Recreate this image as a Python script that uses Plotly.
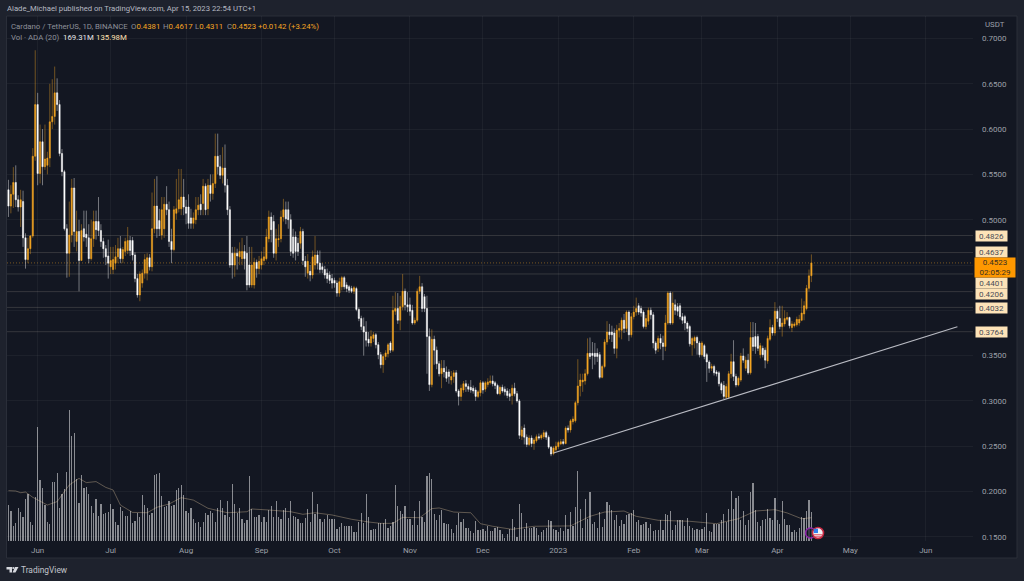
import pandas as pd
import plotly.graph_objects as go

opens = [
.533,.515,.528,.541,.522,.514,.520,.480,.456,.468,
.482,.570,.627,.551,.586,.5585,.560,.568,.608,.614,
.640,.627,.573,.553,.490,.463,.483,.535,.476,.487,
.455,.490,.484,.480,.457,.479,.498,.498,.488,.476,
.468,.460,.448,.445,.452,.459,.468,.457,.465,.466,
.477,.477,.461,.435,.417,.430,.441,.441,.458,.448,
.490,.515,.499,.483,.490,.517,.511,.476,.467,.507,
.512,.512,.525,.514,.514,.502,.496,.500,.511,.517,
.518,.537,.512,.538,.529,.540,.570,.5585,.549,.557,
.538,.511,.463,.450,.463,.459,.457,.465,.463,.450,
.428,.428,.453,.446,.450,.455,.457,.479,.503,.498,
.463,.478,.479,.503,.511,.511,.500,.481,.481,.474,
.474,.487,.454,.441,.443,.439,.450,.461,.452,.448,
.445,.441,.439,.435,.433,.430,
.419,.426,.436,.428,.426,.424,.421,.424,.401,.391,
.382,.376,.368,.364,.369,.373,.362,.351,.340,.349,
.352,.364,.356,.399,.402,.389,.404,.421,.406,.406,
.400,.386,.389,.421,.426,.415,.402,.371,.318,.368,
.356,.341,.330,.336,.332,.332,.323,.327,.331,.311,
.305,.312,.319,.316,.315,.314,.312,.305,.309,.320,
.313,.318,.320,.322,.320,.317,.308,.315,.313,.311,
.308,.306,.314,.308,.300,.261,.270,.260,.252,.259,
.253,.256,.2605,.259,.2605,.265,.260,.249,.242,.246,
.2495,.2525,.255,.253,.270,.268,.277,.278,.298,.3165,
.321,.322,.330,.3525,.3525,.3525,.3525,.351,.326,.338,
.365,.376,.376,.375,.358,.378,.378,.389,.380,.398,
.373,.393,.398,.405,.402,.398,.382,.388,.400,.395,
.364,.358,.369,.364,.360,.386,.419,.386,.406,.404,
.405,.393,.393,.386,.382,.362,.366,.370,.364,.351,
.361,.351,.343,.336,.338,.332,.331,.319,.317,.304,
.304,.330,.3433,.327,.3176,.323,.3496,.336,.345,.331,
.370,.371,.371,.351,.358,.356,.344,.368,.381,.375,
.399,.391,.382,.385,.390,.392,.381,.383,.384,.386,
.389,.396,.402,.4243,.4381]

closes = [
.515,.528,.541,.522,.514,.522,.480,.456,.468,.482,
.570,.627,.551,.586,.5585,.567,.568,.608,.614,.640,
.627,.573,.553,.490,.463,.483,.535,.487,.487,.455,
.488,.481,.480,.457,.479,.498,.489,.488,.476,.468,
.459,.452,.455,.456,.459,.468,.457,.467,.476,.477,
.466,.461,.435,.417,.440,.441,.456,.458,.448,.490,
.515,.490,.490,.511,.517,.511,.476,.467,.511,.512,
.522,.525,.514,.507,.496,.496,.502,.511,.516,.511,
.537,.511,.538,.529,.540,.570,.5585,.549,.557,.538,
.511,.450,.450,.463,.460,.465,.465,.457,.428,.428,
.450,.453,.446,.454,.457,.459,.481,.503,.489,.463,
.479,.479,.503,.511,.501,.500,.465,.463,.465,.465,
.487,.455,.448,.454,.439,.459,.461,.452,.445,.445,
.439,.435,.433,.430,.430,.419,
.4316,.436,.426,.424,.422,.421,.425,.401,.391,.382,
.376,.367,.364,.371,.373,.362,.351,.340,.349,.353,
.362,.356,.400,.402,.389,.404,.421,.406,.404,.399,
.386,.389,.421,.426,.402,.402,.371,.318,.368,.356,
.341,.330,.336,.332,.325,.327,.327,.331,.311,.305,
.314,.319,.316,.313,.312,.311,.305,.310,.320,.312,
.320,.321,.322,.319,.317,.308,.315,.311,.310,.306,
.305,.314,.308,.300,.262,.268,.260,.252,.259,.253,
.257,.2605,.259,.262,.265,.260,.249,.2414,.248,.250,
.254,.255,.253,.270,.268,.278,.280,.298,.3165,.323,
.323,.330,.3525,.349,.350,.349,.349,.326,.338,.365,
.376,.373,.373,.358,.378,.380,.389,.380,.398,.373,
.393,.398,.402,.398,.397,.382,.391,.400,.395,.364,
.356,.369,.364,.360,.386,.419,.386,.408,.400,.399,
.393,.389,.386,.380,.363,.369,.370,.364,.351,.364,
.349,.343,.336,.338,.331,.330,.319,.312,.305,.316,
.330,.3433,.327,.3176,.325,.3496,.345,.345,.331,.370,
.360,.360,.358,.361,.351,.345,.369,.381,.375,.399,
.391,.382,.386,.391,.392,.383,.385,.385,.390,.390,
.397,.405,.4243,.438,.4523]

highs = [
.544,.538,.558,.560,.527,.533,.532,.485,.480,.483,
.579,.687,.640,.605,.600,.605,.575,.650,.655,.669,
.656,.632,.578,.555,.495,.520,.545,.546,.510,.500,
.495,.510,.510,.495,.500,.510,.510,.525,.495,.480,
.472,.478,.470,.470,.472,.480,.482,.470,.480,.492,
.482,.481,.464,.440,.443,.445,.462,.463,.462,.530,
.545,.548,.512,.525,.525,.537,.520,.490,.515,.545,
.556,.556,.545,.522,.528,.512,.508,.525,.525,.528,
.545,.540,.545,.550,.550,.595,.595,.5715,.580,.583,
.545,.515,.470,.470,.468,.475,.480,.472,.482,.470,
.470,.458,.456,.460,.465,.470,.490,.510,.508,.505,
.490,.495,.510,.523,.520,.520,.506,.490,.487,.480,
.492,.490,.460,.462,.450,.466,.482,.466,.466,.452,
.449,.446,.443,.440,.436,.433,
.436,.438,.438,.431,.428,.427,.427,.426,.403,.394,
.392,.388,.376,.378,.376,.375,.365,.354,.352,.356,
.364,.366,.416,.420,.419,.416,.440,.424,.420,.414,
.406,.392,.424,.438,.430,.418,.416,.380,.379,.372,
.360,.344,.345,.345,.338,.335,.333,.334,.334,.313,
.318,.322,.323,.319,.323,.317,.315,.312,.323,.322,
.322,.325,.328,.328,.322,.319,.317,.318,.316,.314,
.313,.318,.320,.311,.302,.272,.274,.263,.262,.262,
.259,.263,.264,.264,.268,.267,.262,.250,.250,.255,
.256,.258,.258,.272,.273,.280,.283,.300,.346,.330,
.330,.335,.369,.370,.365,.364,.358,.354,.340,.368,
.388,.385,.383,.380,.384,.386,.392,.396,.400,.400,
.397,.405,.414,.408,.405,.400,.395,.403,.403,.398,
.366,.372,.374,.372,.395,.421,.421,.420,.412,.408,
.408,.397,.395,.388,.384,.371,.372,.372,.366,.366,
.363,.353,.345,.341,.340,.334,.333,.321,.322,.319,
.333,.352,.367,.330,.327,.353,.358,.349,.352,.387,
.387,.386,.374,.364,.361,.359,.372,.390,.384,.409,
.402,.405,.405,.400,.398,.393,.388,.387,.393,.395,
.413,.410,.428,.445,.4617]

lows = [
.503,.507,.513,.514,.509,.492,.470,.446,.452,.462,
.480,.565,.538,.540,.538,.555,.550,.558,.600,.605,
.620,.570,.548,.488,.436,.437,.475,.470,.465,.421,
.455,.476,.470,.452,.455,.470,.478,.482,.470,.458,
.450,.435,.440,.440,.445,.452,.452,.452,.460,.462,
.460,.455,.431,.414,.410,.425,.435,.433,.444,.443,
.485,.480,.482,.478,.480,.505,.470,.452,.465,.500,
.508,.505,.505,.495,.490,.490,.490,.495,.505,.505,
.505,.505,.505,.520,.522,.535,.550,.545,.540,.530,
.505,.447,.435,.437,.445,.450,.450,.445,.422,.425,
.425,.424,.436,.440,.445,.450,.455,.475,.475,.458,
.455,.470,.475,.498,.495,.490,.460,.458,.455,.460,
.468,.450,.437,.435,.432,.435,.445,.445,.441,.441,
.435,.430,.429,.424,.425,.415,
.415,.422,.423,.420,.419,.419,.418,.399,.388,.378,
.350,.360,.360,.360,.365,.358,.346,.336,.331,.345,
.348,.353,.354,.395,.385,.378,.400,.400,.398,.394,
.384,.384,.387,.418,.398,.398,.330,.311,.315,.340,
.335,.327,.314,.326,.321,.319,.318,.320,.309,.295,
.300,.309,.310,.310,.309,.308,.300,.303,.305,.308,
.310,.315,.318,.316,.313,.307,.306,.309,.306,.303,
.300,.296,.305,.298,.258,.257,.252,.249,.250,.249,
.246,.254,.257,.257,.258,.257,.247,.239,.240,.244,
.247,.251,.251,.252,.265,.265,.274,.276,.295,.305,
.310,.318,.328,.346,.335,.340,.343,.324,.325,.336,
.362,.368,.365,.352,.347,.370,.368,.375,.376,.366,
.370,.390,.394,.395,.393,.380,.379,.384,.390,.358,
.352,.354,.357,.345,.355,.384,.384,.384,.395,.394,
.390,.385,.378,.376,.360,.350,.358,.351,.348,.349,
.346,.321,.331,.333,.328,.327,.316,.308,.302,.302,
.302,.325,.322,.315,.316,.321,.342,.333,.329,.329,
.355,.352,.355,.347,.348,.336,.341,.366,.372,.372,
.387,.379,.371,.382,.388,.380,.376,.381,.382,.383,
.388,.389,.400,.421,.4311]

volumes = [
210,175,88,107,191,171,138,245,273,109,93,259,668,356,308,210,109,99,343,343,
395,195,273,302,401,765,613,629,360,224,385,308,313,273,204,165,243,146,214,158,
165,167,214,185,113,93,200,175,146,146,175,103,117,165,142,269,210,191,152,165,
385,389,395,263,200,204,236,204,210,298,311,327,269,175,162,191,127,103,113,84,
113,165,152,175,162,111,191,239,191,152,236,142,333,214,162,195,127,107,123,380,
185,138,142,152,113,138,109,181,204,142,236,142,127,181,195,136,236,148,138,127,
107,103,132,185,113,284,158,214,127,113,127,152,127,127,127,68,84,103,88,88,
88,88,54,54,113,162,107,273,138,64,68,72,103,103,103,127,74,88,113,325,
204,175,158,204,127,127,93,175,93,236,
140,111,380,399,364,160,121,150,179,105,101,101,72,47,92,164,111,130,78,78,
58,47,115,66,62,72,58,86,58,58,78,82,66,43,19,39,72,127,82,23,
218,164,72,107,78,78,82,78,33,53,66,78,121,117,72,62,53,78,58,150,
72,169,86,199,407,189,78,247,130,286,101,111,78,169,82,130,228,208,179,121,
150,86,121,101,150,156,164,179,111,121,92,97,111,78,101,58,62,62,121,66,
160,150,175,62,92,121,121,121,86,136,86,78,62,72,66,72,82,164,58,53,
101,101,97,121,156,111,189,292,189,253,261,121,175,92,125,286,341,183,111,86,
121,130,189,136,121,253,121,101,234,130,92,95,53,62,53,78,140,136,173,238,169.31]

ma_dates = ["2022-05-20","2022-05-23","2022-05-25","2022-05-27","2022-05-30","2022-06-02","2022-06-05","2022-06-09",
"2022-06-11","2022-06-14","2022-06-18","2022-06-21","2022-06-25","2022-06-29","2022-07-02","2022-07-05","2022-07-10",
"2022-07-16","2022-07-20","2022-07-25","2022-07-30","2022-08-04","2022-08-10","2022-08-18","2022-08-26","2022-08-28",
"2022-09-04","2022-09-13","2022-09-18","2022-09-23","2022-09-30","2022-10-08","2022-10-15","2022-10-20","2022-10-25",
"2022-10-29","2022-11-05","2022-11-10","2022-11-13","2022-11-19","2022-11-26","2022-11-30","2022-12-05","2022-12-13",
"2022-12-22","2023-01-06","2023-01-14","2023-01-20","2023-01-28","2023-02-02","2023-02-11","2023-02-24","2023-03-07",
"2023-03-16","2023-03-23","2023-03-31","2023-04-05","2023-04-11","2023-04-15"]
ma_values = [294,292,282,286,255,230,210,230,269,327,366,341,347,313,298,210,167,165,197,216,253,239,191,165,171,187,
181,171,156,165,152,127,111,103,103,138,136,189,193,169,165,101,86,68,86,88,144,169,175,144,121,115,101,130,175,183,164,130,135.98]

levels = [0.4826, 0.4637, 0.4401, 0.4206, 0.4032, 0.3764]
level_label_y = [236, 252, 282.5, 293.5, 307.5, 332]
last_price = 0.4523
trend_dates = ["2022-12-30", "2023-06-14"]
trend_values = [0.2425, 0.3819]
month_ticks = ["2022-06-01","2022-07-01","2022-08-01","2022-09-01","2022-10-01","2022-11-01","2022-12-01",
               "2023-01-01","2023-02-01","2023-03-01","2023-04-01","2023-05-01","2023-06-01"]
month_labels = ["Jun","Jul","Aug","Sep","Oct","Nov","Dec","2023","Feb","Mar","Apr","May","Jun"]
price_ticks = [0.15,0.20,0.25,0.30,0.35,0.40,0.45,0.50,0.55,0.60,0.65,0.70]
price_tick_labels = ["0.1500","0.2000","0.2500","0.3000","0.3500","","","0.5000","0.5500","0.6000","0.6500","0.7000"]

if not (len(opens)==len(closes)==len(highs)==len(lows)==len(volumes)):
    raise SystemExit(f"lengths {len(opens)} {len(closes)} {len(highs)} {len(lows)} {len(volumes)}")

dates = pd.date_range(end="2023-04-15", periods=len(closes), freq="D")

ORANGE = "#f5a623"
PANE = "#131722"
OUTER = "#1e222d"
TXT = "#9da0a9"
FONT = "Roboto"

def X(px): return (px - 7) / 966
def Y(py): return (541 - py) / 525

fig = go.Figure()
fig.add_bar(x=dates, y=volumes, yaxis="y", width=0.5*86400000,
            marker=dict(color="rgba(255,255,255,0.5)", line=dict(width=0)), showlegend=False)
fig.add_scatter(x=pd.to_datetime(ma_dates), y=ma_values, yaxis="y", mode="lines",
                line=dict(color="rgba(255,224,178,0.32)", width=1), showlegend=False)
fig.add_candlestick(x=dates, open=opens, high=highs, low=lows, close=closes, yaxis="y2", whiskerwidth=0,
                    increasing=dict(line=dict(color="rgba(245,166,35,0.42)", width=1), fillcolor="rgba(0,0,0,0)"),
                    decreasing=dict(line=dict(color="rgba(255,255,255,0.42)", width=1), fillcolor="rgba(0,0,0,0)"),
                    showlegend=False)
fig.add_candlestick(x=dates, open=opens, close=closes,
                    high=[max(o, c) for o, c in zip(opens, closes)],
                    low=[min(o, c) for o, c in zip(opens, closes)],
                    yaxis="y2", whiskerwidth=0,
                    increasing=dict(line=dict(color=ORANGE, width=0.2), fillcolor=ORANGE),
                    decreasing=dict(line=dict(color="#ffffff", width=0.2), fillcolor="#ffffff"),
                    showlegend=False)
fig.add_scatter(x=pd.to_datetime(trend_dates), y=trend_values, yaxis="y2", mode="lines",
                line=dict(color="#b9bbc3", width=1.1), showlegend=False)

shapes = [dict(type="rect", xref="paper", yref="paper", x0=X(6.5), x1=X(1017), y0=Y(558), y1=Y(16),
               fillcolor=PANE, line=dict(color="#2a2e39", width=1), layer="below")]
for lv in levels:
    shapes.append(dict(type="line", xref="paper", yref="y2", x0=0, x1=1, y0=lv, y1=lv,
                       line=dict(color="rgba(225,215,195,0.17)", width=1), layer="below"))
shapes.append(dict(type="line", xref="paper", yref="y2", x0=0, x1=1, y0=last_price, y1=last_price,
                   line=dict(color="rgba(245,166,35,0.45)", width=1, dash="1px,2px"), layer="below"))

def circ(cx, cy, r, fill, line=None, w=1.5):
    return dict(type="circle", xref="paper", yref="paper", x0=X(cx-r), x1=X(cx+r), y0=Y(cy+r), y1=Y(cy-r),
                fillcolor=fill, line=dict(color=line or "rgba(0,0,0,0)", width=w if line else 0))
shapes += [circ(810.5, 533, 5, "rgba(19,23,34,0.7)", "#8e24aa"),
           circ(818, 533, 5.5, "#eef0f4", "#c2263f", 1.6),
           dict(type="rect", xref="paper", yref="paper", x0=X(813.8), x1=X(818), y0=Y(533), y1=Y(528.8),
                fillcolor="#2f80ed", line=dict(width=0)),
           dict(type="line", xref="paper", yref="paper", x0=X(813.5), x1=X(822.5), y0=Y(534.8), y1=Y(534.8),
                line=dict(color="#e0475c", width=1)),
           dict(type="line", xref="paper", yref="paper", x0=X(814.5), x1=X(821.5), y0=Y(536.8), y1=Y(536.8),
                line=dict(color="#e0475c", width=1))]
# TradingView logo
def P(pts):
    return "M" + " L".join(f"{X(a):.5f},{Y(b):.5f}" for a, b in pts) + " Z"
shapes += [dict(type="path", xref="paper", yref="paper", path=P([(6.5,567),(12,567),(12,572.5),(9.5,572.5),(9.5,569.5),(6.5,569.5)]),
                fillcolor="#d6d8de", line=dict(width=0)),
           dict(type="path", xref="paper", yref="paper", path=P([(15,567),(18.5,567),(15.5,572.5),(12.5,572.5)]),
                fillcolor="#d6d8de", line=dict(width=0)),
           circ(13.3, 568, 1.1, "#d6d8de")]
fig.update_layout(shapes=shapes)

anns = []
def T(px, py, text, color=TXT, size=7.8, anchor="left"):
    anns.append(dict(xref="paper", yref="paper", x=X(px), y=Y(py), text=text, showarrow=False, xanchor=anchor,
                     yanchor="middle", font=dict(family=FONT, size=size, color=color), borderpad=0, borderwidth=0))

T(6.5, 9, "Alade_Michael published on TradingView.com, Apr 15, 2023 22:54 UTC+1", "#b6b9c2", 7.7)
T(11, 26, "Cardano / TetherUS, 1D, BINANCE", "#8d9099", 7.8)
for px, lab, val in [(131,"O","0.4381"),(163,"H","0.4617"),(195,"L","0.4311"),(227,"C","0.4523")]:
    T(px, 26, f'<span style="color:#8d9099">{lab}</span>{val}', ORANGE, 7.8)
T(258, 26, "+0.0142 (+3.24%)", ORANGE, 7.8)
T(11, 37, "Vol · ADA (20)", "#8d9099", 7.8)
T(63, 37, "169.31M", "#e6e7ea", 7.8)
T(96, 37, "135.98M", "#ffe0b2", 7.8)
T(21, 570, "TradingView", "#c2c5cc", 8.4)
T(985, 24, "USDT", TXT, 7.8)

for lv, py in zip(levels, level_label_y):
    anns.append(dict(xref="paper", yref="paper", x=X(991.5), y=Y(py), text=f"{lv:.4f}", showarrow=False, width=30, height=9,
                     bgcolor="#fde3b8", font=dict(family=FONT, size=8, color="#4a4d57"), xanchor="center", yanchor="middle", borderpad=0.5))
anns.append(dict(xref="paper", yref="paper", x=X(995), y=Y(267.5), text=f"{last_price:.4f}<br>02:05:29", showarrow=False,
                 width=40, height=19, bgcolor="#ff9800", font=dict(family=FONT, size=8, color="#3a3020"),
                 xanchor="center", yanchor="middle", borderpad=0))
fig.update_layout(annotations=anns)

fig.update_layout(
    width=1024, height=581, autosize=False, margin=dict(l=7, r=51, t=16, b=40),
    paper_bgcolor=OUTER, plot_bgcolor=PANE, bargap=0, showlegend=False,
    font=dict(family=FONT, size=8, color=TXT),
    xaxis=dict(type="date", range=["2022-05-19 09:36", "2023-06-20 10:00"], tickmode="array", tickvals=month_ticks,
               ticktext=month_labels, showgrid=True, gridcolor="rgba(255,255,255,0.045)", gridwidth=1, zeroline=False,
               showline=False, ticks="", rangeslider=dict(visible=False), tickfont=dict(family=FONT, size=8, color=TXT),
               ticklabelstandoff=3, fixedrange=True),
    yaxis=dict(range=[0, 3066], visible=False, showgrid=False, zeroline=False, fixedrange=True),
    yaxis2=dict(overlaying="y", side="right", range=[0.1454, 0.7248], tickmode="array", tickvals=price_ticks,
                ticktext=price_tick_labels, showgrid=True, gridcolor="rgba(255,255,255,0.045)", zeroline=False, showline=False, ticks="",
                tickfont=dict(family=FONT, size=8, color=TXT), ticklabelstandoff=8, fixedrange=True),
)
fig.write_html("out.html", config={"displayModeBar": False},
               post_script="document.documentElement.style.overflow='hidden';document.body.style.margin='0';document.body.style.background='#1e222d';")
